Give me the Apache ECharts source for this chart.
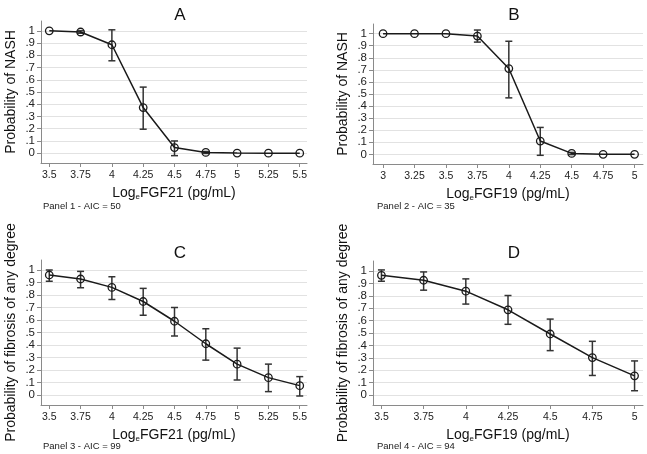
<!DOCTYPE html>
<html>
<head>
<meta charset="utf-8">
<script src="https://cdn.jsdelivr.net/npm/echarts@6/dist/echarts.min.js"></script>
<style>
  html, body { margin: 0; padding: 0; background: #fff; }
  #chart { width: 647px; height: 454px; }
</style>
</head>
<body>
<div id="chart"></div>
<script>
// panel A: NASH vs log FGF21
let xA = [3.5, 3.75, 4, 4.25, 4.5, 4.75, 5, 5.25, 5.5];
let pA = [1.0, 0.99, 0.886, 0.373, 0.046, 0.006, 0.001, 0, 0];
let loA = [1.0, 0.98, 0.755, 0.196, -0.02, -0.002, 0, 0, 0];
let hiA = [1.0, 1.0, 1.008, 0.54, 0.10, 0.014, 0, 0, 0];

// panel B: NASH vs log FGF19
let xB = [3, 3.25, 3.5, 3.75, 4, 4.25, 4.5, 4.75, 5];
let pB = [1, 1, 1, 0.98, 0.711, 0.11, 0.008, 0, 0];
let loB = [1, 1, 1, 0.93, 0.468, -0.008, -0.002, 0, 0];
let hiB = [1, 1, 1, 1.03, 0.937, 0.223, 0.016, 0, 0];

// panel C: fibrosis vs log FGF21
let xC = [3.5, 3.75, 4, 4.25, 4.5, 4.75, 5, 5.25, 5.5];
let pC = [0.96, 0.928, 0.861, 0.748, 0.59, 0.41, 0.247, 0.139, 0.075];
let loC = [0.91, 0.858, 0.764, 0.638, 0.472, 0.279, 0.12, 0.027, -0.008];
let hiC = [1.0, 0.989, 0.946, 0.853, 0.70, 0.53, 0.375, 0.247, 0.147];

// panel D: fibrosis vs log FGF19
let xD = [3.5, 3.75, 4, 4.25, 4.5, 4.75, 5];
let pD = [0.965, 0.925, 0.837, 0.687, 0.492, 0.302, 0.155];
let loD = [0.917, 0.845, 0.733, 0.57, 0.358, 0.158, 0.035];
let hiD = [1.008, 0.992, 0.936, 0.802, 0.612, 0.433, 0.275];

let yTicks = [0, 0.1, 0.2, 0.3, 0.4, 0.5, 0.6, 0.7, 0.8, 0.9, 1];
let titles = ['A', 'B', 'C', 'D'];
let notes = ['Panel 1 - AIC = 50', 'Panel 2 - AIC = 35', 'Panel 3 - AIC = 99', 'Panel 4 - AIC = 94'];
let xNames = ['Log{s|e}FGF21 (pg/mL)', 'Log{s|e}FGF19 (pg/mL)', 'Log{s|e}FGF21 (pg/mL)', 'Log{s|e}FGF19 (pg/mL)'];
let yNames = ['Probability of NASH', 'Probability of NASH', 'Probability of fibrosis of any degree', 'Probability of fibrosis of any degree'];

let panels = [
    { x: xA, p: pA, lo: loA, hi: hiA, xmin: 3.434, xmax: 5.558 },
    { x: xB, p: pB, lo: loB, hi: hiB, xmin: 2.92, xmax: 5.067 },
    { x: xC, p: pC, lo: loC, hi: hiC, xmin: 3.434, xmax: 5.558 },
    { x: xD, p: pD, lo: loD, hi: hiD, xmin: 3.45, xmax: 5.05 }
];

let grids = [
    { left: 41, top: 21, width: 266, height: 142 },
    { left: 373, top: 24, width: 270, height: 140 },
    { left: 41, top: 260, width: 266, height: 145 },
    { left: 373, top: 261, width: 270, height: 144 }
];

const font = '"Liberation Sans", Arial, sans-serif';

function fmtY(v) {
    if (v === 0) return '0';
    if (v === 1) return '1';
    return '.' + Math.round(v * 10);
}

let option = {
    animation: false,
    backgroundColor: '#fff',
    textStyle: { fontFamily: font },
    title: titles.map((t, i) => ({
        text: t,
        left: grids[i].left + grids[i].width / 2 + 1,
        top: i < 2 ? 2 : 240,
        textAlign: 'center',
        textStyle: { fontSize: 17, fontWeight: 'normal', color: '#111', fontFamily: font }
    })),
    graphic: notes.map((t, i) => ({
        type: 'text',
        left: i % 2 === 0 ? 43 : 377,
        top: i < 2 ? 201 : 441,
        style: { text: t, fontSize: 9.5, fill: '#222', fontFamily: font }
    })),
    grid: grids,
    xAxis: panels.map((pn, i) => ({
        type: 'value',
        gridIndex: i,
        min: pn.xmin,
        max: pn.xmax,
        name: xNames[i],
        nameLocation: 'middle',
        nameGap: 23,
        nameTextStyle: {
            fontSize: 14, color: '#111', fontFamily: font,
            rich: { s: { fontSize: 8, color: '#111', padding: [7, 0, 0, 0], fontFamily: font } }
        },
        axisLine: { onZero: false, lineStyle: { color: '#8a8a8a', width: 1 } },
        axisTick: { customValues: pn.x, length: 4, lineStyle: { color: '#8a8a8a' } },
        axisLabel: { customValues: pn.x, fontSize: 10.5, color: '#222', margin: 7, fontFamily: font },
        splitLine: { show: false }
    })),
    yAxis: panels.map((pn, i) => ({
        type: 'value',
        gridIndex: i,
        min: -0.08,
        max: 1.08,
        name: yNames[i],
        nameLocation: 'middle',
        nameGap: 23,
        nameTextStyle: { fontSize: 14, color: '#111', fontFamily: font },
        axisLine: { show: true, lineStyle: { color: '#8a8a8a', width: 1 } },
        axisTick: { show: true, customValues: yTicks, length: 4, lineStyle: { color: '#8a8a8a' } },
        axisLabel: { customValues: yTicks, formatter: fmtY, fontSize: 11.5, color: '#222', margin: 6, fontFamily: font },
        splitLine: { show: true, lineStyle: { color: '#e2e2e2', width: 1 } }
    })),
    series: []
};

panels.forEach((pn, i) => {
    // confidence bars with caps
    option.series.push({
        type: 'custom',
        xAxisIndex: i,
        yAxisIndex: i,
        z: 3,
        data: pn.x.map((x, k) => [x, pn.lo[k], pn.hi[k]]),
        renderItem: (params, api) => {
            let lo = api.coord([api.value(0), api.value(1)]);
            let hi = api.coord([api.value(0), api.value(2)]);
            if (Math.abs(lo[1] - hi[1]) < 1) return;
            let st = { stroke: '#333', lineWidth: 1.5 };
            return {
                type: 'group',
                children: [
                    { type: 'line', shape: { x1: lo[0], y1: lo[1], x2: hi[0], y2: hi[1] }, style: st },
                    { type: 'line', shape: { x1: lo[0] - 3.5, y1: lo[1], x2: lo[0] + 3.5, y2: lo[1] }, style: st },
                    { type: 'line', shape: { x1: hi[0] - 3.5, y1: hi[1], x2: hi[0] + 3.5, y2: hi[1] }, style: st }
                ]
            };
        }
    });
    option.series.push({
        type: 'line',
        xAxisIndex: i,
        yAxisIndex: i,
        z: 4,
        data: pn.x.map((x, k) => [x, pn.p[k]]),
        symbol: 'circle',
        symbolSize: 7.5,
        showSymbol: true,
        lineStyle: { color: '#1a1a1a', width: 1.5 },
        itemStyle: { color: 'rgba(255,255,255,0)', borderColor: '#1a1a1a', borderWidth: 1.3 }
    });
});

let chart = echarts.init(document.getElementById('chart'), null, { renderer: 'canvas' });
chart.setOption(option);
</script>
</body>
</html>
